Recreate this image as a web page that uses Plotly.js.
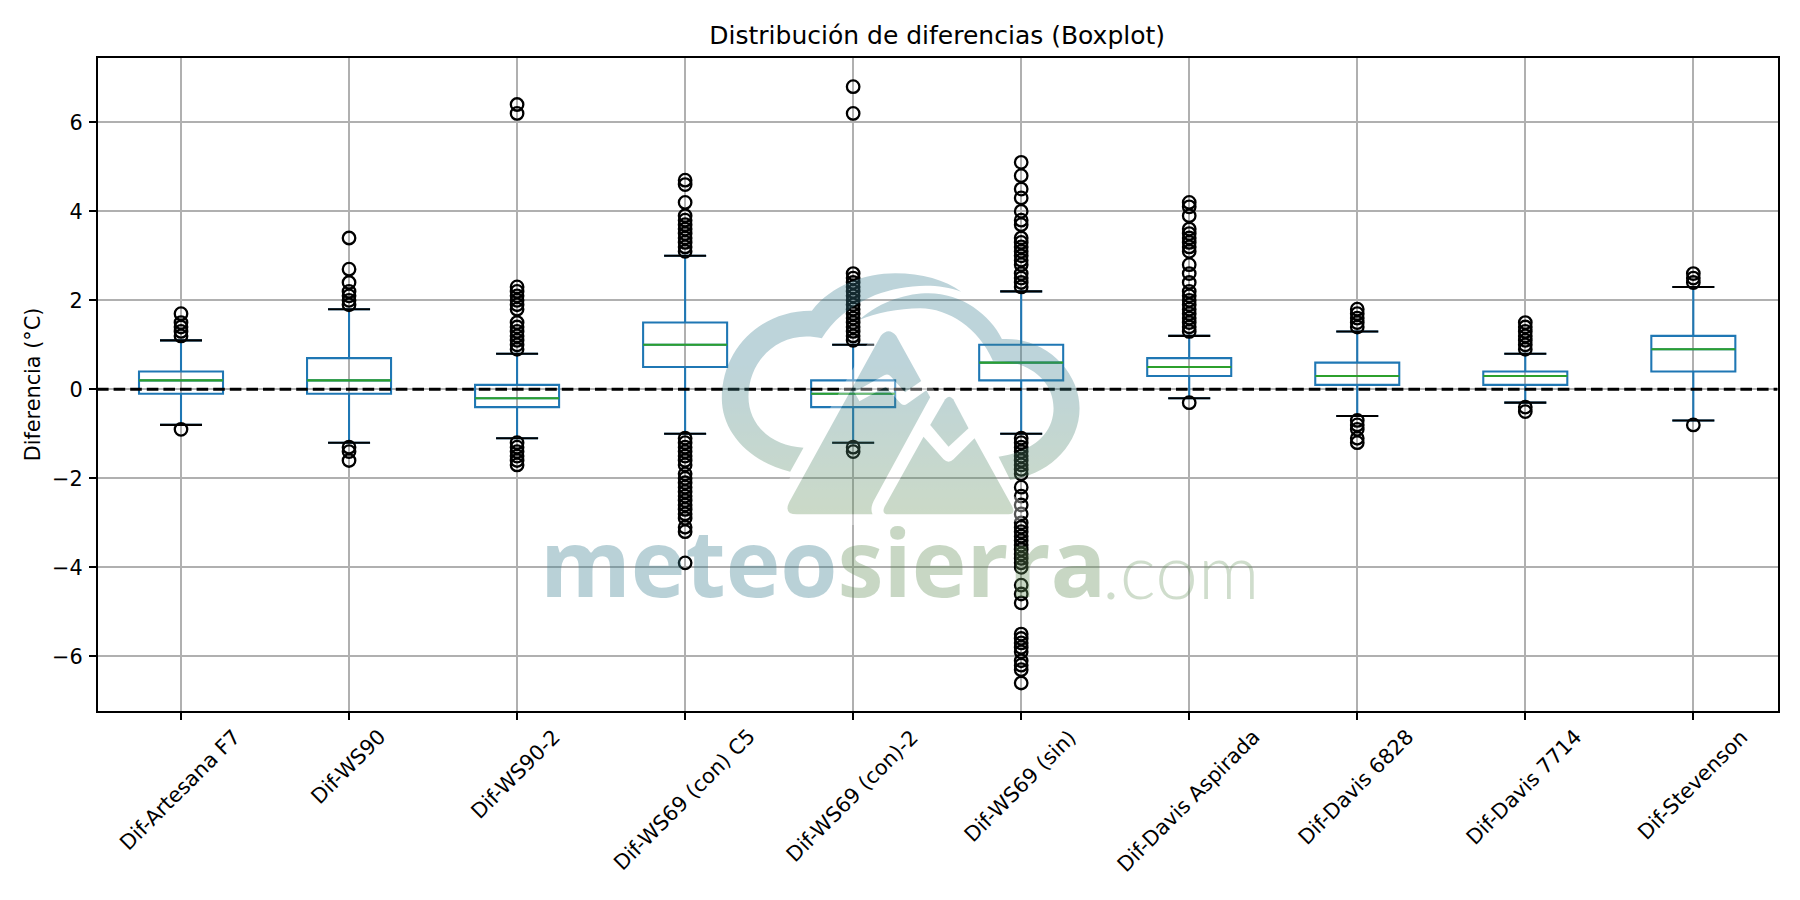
<!DOCTYPE html>
<html><head><meta charset="utf-8">
<script src="https://cdn.plot.ly/plotly-3.0.1.min.js"></script>
<style>html,body{margin:0;padding:0;background:#fff}</style></head>
<body><div id="chart" style="width:1800px;height:900px"></div>
<script>
const categories = ["Dif-Artesana F7","Dif-WS90","Dif-WS90-2","Dif-WS69 (con) C5","Dif-WS69 (con)-2","Dif-WS69 (sin)","Dif-Davis Aspirada","Dif-Davis 6828","Dif-Davis 7714","Dif-Stevenson"];
const q1     = [-0.1,-0.1,-0.4,0.5,-0.4,0.2,0.3,0.1,0.1,0.4];
const median = [0.2,0.2,-0.2,1.0,-0.1,0.6,0.5,0.3,0.3,0.9];
const q3     = [0.4,0.7,0.1,1.5,0.2,1.0,0.7,0.6,0.4,1.2];
const whiskerLow  = [-0.8,-1.2,-1.1,-1.0,-1.2,-1.0,-0.2,-0.6,-0.3,-0.7];
const whiskerHigh = [1.1,1.8,0.8,3.0,1.0,2.2,1.2,1.3,0.8,2.3];
const outArtesana = [1.7,1.5,1.4,1.3,1.2,-0.9];
const outWS90 = [3.4,2.7,2.4,2.2,2.1,2.0,1.9,-1.3,-1.4,-1.6];
const outWS902 = [6.4,6.2,2.3,2.2,2.1,2.0,1.9,1.8,1.5,1.4,1.3,1.2,1.1,1.0,0.9,-1.2,-1.3,-1.4,-1.5,-1.6,-1.7];
const outWS69C5 = [4.7,4.6,4.2,3.9,3.8,3.7,3.6,3.5,3.4,3.3,3.2,3.1,-1.1,-1.2,-1.3,-1.4,-1.5,-1.6,-1.7,-1.9,-2.0,-2.1,-2.2,-2.3,-2.4,-2.5,-2.6,-2.7,-2.8,-2.9,-3.1,-3.2,-3.9];
const outWS69Con2 = [6.8,6.2,2.6,2.5,2.4,2.3,2.2,2.1,2.0,1.9,1.8,1.7,1.6,1.5,1.4,1.3,1.2,1.1,-1.3,-1.4];
const outWS69Sin = [5.1,4.8,4.5,4.3,4.0,3.8,3.7,3.4,3.3,3.2,3.1,3.0,2.9,2.8,2.6,2.5,2.4,2.3,-1.1,-1.2,-1.3,-1.4,-1.5,-1.6,-1.7,-1.8,-1.9,-2.2,-2.4,-2.6,-2.8,-3.0,-3.1,-3.2,-3.3,-3.4,-3.5,-3.6,-3.7,-3.8,-3.9,-4.0,-4.4,-4.6,-4.8,-5.5,-5.6,-5.7,-5.8,-5.9,-6.1,-6.2,-6.3,-6.6];
const outAspirada = [4.2,4.1,3.9,3.6,3.5,3.4,3.3,3.2,3.1,2.8,2.6,2.4,2.2,2.1,2.0,1.9,1.8,1.7,1.6,1.5,1.4,1.3,-0.3];
const out6828 = [1.8,1.7,1.6,1.5,1.4,-0.7,-0.8,-0.9,-1.1,-1.2];
const out7714 = [1.5,1.4,1.3,1.2,1.1,1.0,0.9,-0.4,-0.5];
const outStevenson = [2.6,2.5,2.4,-0.8];
const outliers = [outArtesana,outWS90,outWS902,outWS69C5,outWS69Con2,outWS69Sin,outAspirada,out6828,out7714,outStevenson];
const positions = categories.map((_,i)=>i+1);

const BOX_W=0.5, CAP_W=0.25;
function segments(vals,half){
  const x=[],y=[];
  vals.forEach((v,i)=>{x.push(positions[i]-half,positions[i]+half,null);y.push(v,v,null);});
  return {x,y};
}
const traces=[];
traces.push({type:'box',x:positions,q1:q1,median:median,q3:q3,lowerfence:whiskerLow,upperfence:whiskerHigh,
  width:BOX_W,whiskerwidth:CAP_W/BOX_W,boxpoints:false,fillcolor:'rgba(0,0,0,0)',
  line:{color:'#1f77b4',width:2.08},showlegend:false,hoverinfo:'skip'});
const low=segments(whiskerLow,CAP_W/2), high=segments(whiskerHigh,CAP_W/2);
traces.push({type:'scatter',mode:'lines',x:low.x.concat(high.x),y:low.y.concat(high.y),line:{color:'#000',width:2.08},showlegend:false,hoverinfo:'skip'});
const med=segments(median,BOX_W/2);
traces.push({type:'scatter',mode:'lines',x:med.x,y:med.y,line:{color:'#2ca02c',width:2.08},showlegend:false,hoverinfo:'skip'});
traces.push({type:'scatter',mode:'markers',
  x:outliers.flatMap((a,i)=>a.map(()=>positions[i])),y:outliers.flat(),
  marker:{symbol:'circle-open',size:12.5,color:'#000',line:{color:'#000',width:2.3}},showlegend:false,hoverinfo:'skip'});
traces.push({type:'scatter',mode:'lines',x:[0.5,10.5],y:[0,0],line:{color:'#000',width:3.125,dash:'11.6px,5px'},showlegend:false,hoverinfo:'skip'});

const L=98,R=1777.6,T=58,B=711;
const px=v=>(v-L)/(R-L), py=v=>(B-v)/(B-T);
const font={family:'"DejaVu Sans",sans-serif',size:20.8,color:'#000'};

const logoSvg=`<svg xmlns="http://www.w3.org/2000/svg" width="1125" height="780" viewBox="0 0 1125 780">
<defs><linearGradient id="g" gradientUnits="userSpaceOnUse" x1="0" y1="300" x2="0" y2="750"><stop offset="0" stop-color="#3a7e90"/><stop offset="1" stop-color="#649059"/></linearGradient></defs>
<path fill="url(#g)" d="M225,620 C100,590 20,500 20,400 C20,250 140,135 290,137 C350,60 450,25 540,25 C620,25 690,45 738,80 C660,50 560,60 480,90 C400,125 350,170 320,220 C200,190 100,280 100,395 C100,480 170,545 265,548 Z"/>
<path fill="url(#g)" d="M432,165 C500,105 580,85 640,85 C740,85 825,150 860,222 C990,215 1093,320 1093,430 C1093,540 1000,630 885,645 L850,575 C960,560 1015,500 1015,430 C1015,340 930,285 833,287 C790,190 700,130 615,130 C550,130 480,145 432,165 Z"/>
<path fill="#fff" stroke="#fff" stroke-width="70" stroke-linejoin="round" d="M245,748 L222,712 L520,197 L760,640 L895,735 L505,748 Z" opacity="1"/>
<path fill="url(#g)" d="M245,748 Q205,748 222,712 L497,212 Q520,185 543,212 L645,397 L480,700 Q463,728 472,748 Z"/>
<path fill="none" stroke="#fff" stroke-width="32" stroke-linejoin="round" d="M425,395 L515,345 L567,403 L650,345"/>
<path fill="url(#g)" d="M690,403 Q702,388 714,403 L760,490 L700,545 L645,480 Z"/>
<path fill="url(#g)" d="M625,515 L685,583 Q700,597 715,583 L778,520 L890,722 Q903,748 880,748 L520,748 Q498,748 508,725 Z"/>
</svg>`;

const labelAnn=categories.map((c,i)=>({xref:'x',yref:'paper',x:positions[i],y:0,yshift:-11,xshift:-1,xanchor:'center',yanchor:'top',
  text:c,textangle:-45,showarrow:false,font:font}));
const wmBlue='#3a7e90', wmGreen='#649059';
const wmAnn=[
 {xref:'paper',yref:'paper',x:px(538),y:py(598),xanchor:'left',yanchor:'middle',yshift:37,showarrow:false,opacity:0.35,
  text:`<span style="color:${wmBlue}">meteo</span><span style="color:${wmGreen}">sierra</span>`,
  font:{family:'"Open Sans",sans-serif',size:92.5,weight:700,color:wmBlue}},
 {xref:'paper',yref:'paper',x:px(1100),y:py(598),xanchor:'left',yanchor:'middle',yshift:29,showarrow:false,opacity:0.3,
  text:'.com',font:{family:'Lato,sans-serif',size:76.5,weight:300,color:wmGreen}}
];

const layout={width:1800,height:900,autosize:false,paper_bgcolor:'#fff',plot_bgcolor:'#fff',showlegend:false,hovermode:false,
 margin:{l:L,r:1800-R,t:T,b:900-B,pad:0},
 title:{text:'Distribución de diferencias (Boxplot)',x:px(937),xref:'paper',xanchor:'center',y:1-35/900,yref:'container',yanchor:'middle',
   font:{family:font.family,size:25,color:'#000'}},
 xaxis:{range:[0.506,10.5039],tickmode:'array',tickvals:positions,ticktext:categories,showticklabels:false,showgrid:true,gridcolor:'#b0b0b0',gridwidth:1.67,
   zeroline:false,ticks:'outside',ticklen:7.3,tickwidth:1.67,tickcolor:'#000',showline:true,mirror:true,linecolor:'#000',linewidth:1.67},
 yaxis:{range:[-7.229,7.445],tickmode:'array',tickvals:[-6,-4,-2,0,2,4,6],showgrid:true,gridcolor:'#b0b0b0',gridwidth:1.67,zeroline:false,
   ticks:'outside',ticklen:7.3,tickwidth:1.67,tickcolor:'#000',showline:true,mirror:true,linecolor:'#000',linewidth:1.67,tickfont:font,ticklabelstandoff:2,
   title:{text:'Diferencia (°C)',font:font,standoff:6}},
 annotations:labelAnn.concat(wmAnn),
 images:[{source:'data:image/svg+xml;charset=utf-8,'+encodeURIComponent(logoSvg),xref:'paper',yref:'paper',x:px(715),y:py(265),sizex:375/(R-L),sizey:260/(B-T),
   xanchor:'left',yanchor:'top',sizing:'stretch',layer:'above',opacity:0.33}]
};
Plotly.newPlot('chart',traces,layout,{displayModeBar:false,responsive:false});
</script></body></html>
